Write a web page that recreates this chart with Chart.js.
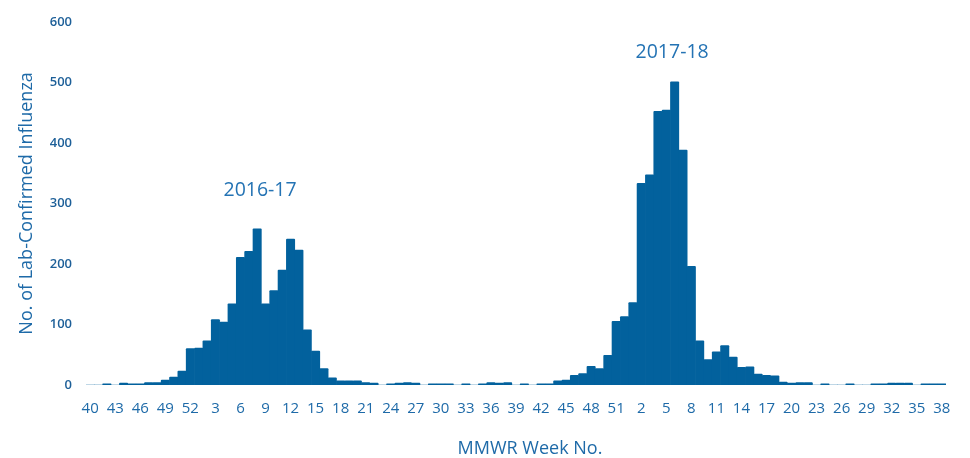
<!DOCTYPE html>
<html>
<head>
<meta charset="utf-8">
<script src="https://cdn.jsdelivr.net/npm/chart.js@4.4.1/dist/chart.umd.min.js"></script>
<style>
  html, body { margin: 0; padding: 0; background: #ffffff; }
  #wrap { width: 970px; height: 458px; }
</style>
</head>
<body>
<div id="wrap"><canvas id="c" width="970" height="458"></canvas></div>
<script>
// ---- data ----
const season1Weeks = [40,41,42,43,44,45,46,47,48,49,50,51,52,1,2,3,4,5,6,7,8,9,10,11,12,13,14,15,16,17,18,19,20,21,22,23,24,25,26,27,28,29,30,31,32,33,34,35,36,37,38,39];
const season2Weeks = [40,41,42,43,44,45,46,47,48,49,50,51,52,1,2,3,4,5,6,7,8,9,10,11,12,13,14,15,16,17,18,19,20,21,22,23,24,25,26,27,28,29,30,31,32,33,34,35,36,37,38];
const season1Cases = [0,0,2,0,3,2,2,4,4,8,13,23,60,61,73,108,104,134,211,221,258,134,156,190,241,223,91,56,27,12,7,7,7,4,3,0,2,3,4,3,0,2,2,2,0,2,0,2,4,3,4,0];
const season2Cases = [2,0,2,2,7,8,16,19,31,27,49,105,113,136,333,347,452,454,501,388,196,73,42,55,65,46,29,30,18,16,15,5,3,4,4,0,2,0,0,2,0,0,2,2,3,3,3,0,2,2,2];
const xTickLabels = ['40','43','46','49','52','3','6','9','12','15','18','21','24','27','30','33','36','39','42','45','48','51','2','5','8','11','14','17','20','23','26','29','32','35','38'];
const yTicks = [0,100,200,300,400,500,600];
const seasonNames = ['2016-17','2017-18'];

const weeks = season1Weeks.concat(season2Weeks);
const cases = season1Cases.concat(season2Cases);

// ---- styles ----
const BAR = '#02619d';
const YTICK = '#1d5f98';
const XTICK = '#1e6aa8';
const TITLE = '#1e6aa8';
const NOTE = '#2473b4';
const FONT = '"Open Sans", "DejaVu Sans", sans-serif';

const annot = {
  id: 'annot',
  afterDatasetsDraw(chart) {
    const { ctx, scales: { x, y }, chartArea } = chart;
    ctx.save();
    ctx.fillStyle = NOTE;
    ctx.textAlign = 'center';
    ctx.textBaseline = 'alphabetic';
    ctx.font = '19.5px ' + FONT;
    const anchors = [[20.35, 311.7], [69.7, 541]];
    seasonNames.forEach((t, k) => {
      ctx.fillText(t, x.getPixelForValue(anchors[k][0]), y.getPixelForValue(anchors[k][1]));
    });
    ctx.fillStyle = TITLE;
    ctx.font = '18px ' + FONT;
    ctx.fillText('MMWR Week No.', (chartArea.left + chartArea.right) / 2 + 14, chart.height - 3.7);
    ctx.restore();
  }
};

new Chart(document.getElementById('c'), {
  type: 'bar',
  data: {
    labels: weeks,
    datasets: [{
      data: cases,
      backgroundColor: BAR,
      borderWidth: 0,
      borderRadius: 1,
      barPercentage: 1,
      categoryPercentage: 1
    }]
  },
  options: {
    responsive: false,
    animation: false,
    devicePixelRatio: 1,
    layout: { padding: { top: 16, right: 24, left: 0, bottom: 0 } },
    plugins: { legend: { display: false }, tooltip: { enabled: false } },
    scales: {
      x: {
        grid: { display: false, drawTicks: false },
        border: { display: false },
        ticks: {
          autoSkip: false, maxRotation: 0, minRotation: 0, padding: 15,
          color: XTICK, font: { family: FONT, size: 15 },
          callback: (v, i) => (i % 3 === 0 ? xTickLabels[i / 3] : '')
        },
        afterFit: s => { s.height = 73; }
      },
      y: {
        min: yTicks[0], max: yTicks[yTicks.length - 1],
        grid: { display: false, drawTicks: false },
        border: { display: false },
        ticks: {
          stepSize: 100, padding: 14,
          color: YTICK, font: { family: FONT, size: 13, weight: '600' }
        },
        title: {
          display: true, text: 'No. of Lab-Confirmed Influenza',
          color: TITLE, font: { family: FONT, size: 18 },
          padding: { top: 16, bottom: 0 }
        },
        afterFit: s => { s.width = 86; }
      }
    }
  },
  plugins: [annot]
});
</script>
</body>
</html>
